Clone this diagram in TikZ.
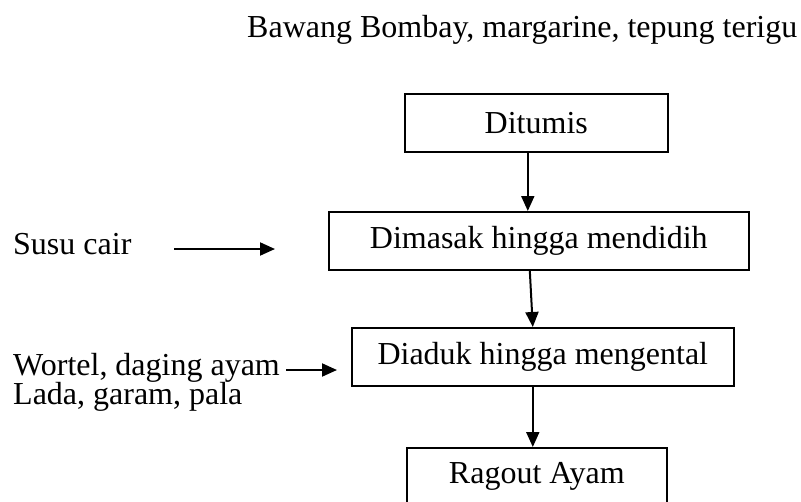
\documentclass[tikz,border=0pt]{standalone}
\usepackage{fontspec}
\setmainfont{Liberation Serif}
\usetikzlibrary{arrows.meta}
\tikzset{
  procbox/.style={draw, line width=1.6pt, rectangle, inner sep=0pt, anchor=north west,
    font=\fontsize{32}{36}\selectfont},
  lbl/.style={inner sep=0pt, anchor=base west, font=\fontsize{32}{36}\selectfont},
  flow/.style={line width=2pt, -{Triangle[length=15pt,width=13pt]}}
}
\begin{document}
\begin{tikzpicture}[x=1pt,y=-1pt]
  \useasboundingbox (0,0) rectangle (801,501);

  % heading ingredients
  \node[lbl] (top) at (247,37) {Bawang Bombay, margarine, tepung terigu};

  % process steps
  \node[procbox, minimum width=263pt, minimum height=58pt] (ditumis) at (404,93) {Ditumis};
  \node[procbox, minimum width=420pt, minimum height=58pt] (masak) at (328,211) {Dimasak hingga mendidih};
  \node[procbox, minimum width=382pt, minimum height=58pt] (aduk) at (351,327) {Diaduk hingga mengental};
  \node[procbox, minimum width=260pt, minimum height=58pt] (ragout) at (406,447) {Ragout Ayam};

  % side inputs
  \node[lbl] (susu) at (13,254) {Susu cair};
  \node[lbl] (wortel) at (13,375) {Wortel, daging ayam};
  \node[lbl] (lada) at (13,404) {Lada, garam, pala};

  \coordinate (susuA) at (174,249);
  \coordinate (susuB) at (275,249);
  \coordinate (wortelA) at (286,370);
  \coordinate (wortelB) at (337,370);

  % connectors
  \draw[flow] ([xshift=-8.5pt]ditumis.south) -- ([xshift=-11pt]masak.north);
  \draw[flow] ([xshift=-9pt]masak.south) -- ([xshift=-10pt]aduk.north);
  \draw[flow] ([xshift=-10pt]aduk.south) -- ([xshift=-4pt]ragout.north);
  \draw[flow] (susuA) -- (susuB);
  \draw[flow] (wortelA) -- (wortelB);
\end{tikzpicture}
\end{document}
